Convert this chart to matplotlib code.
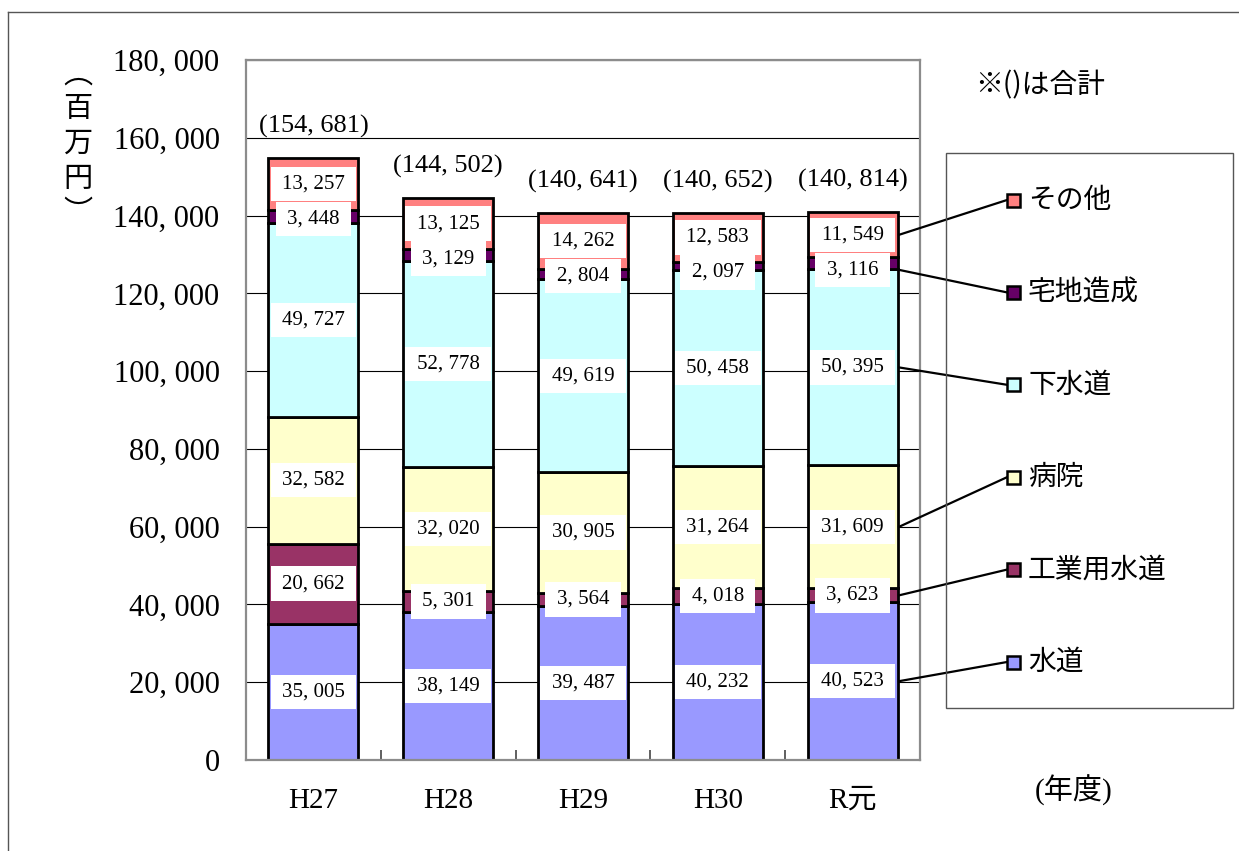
import numpy as np
import matplotlib
matplotlib.use("Agg")
import matplotlib.pyplot as plt
from matplotlib.patches import ConnectionPatch, Rectangle
from matplotlib.path import Path
from matplotlib.ticker import FixedLocator, FuncFormatter

# 年度別の事業費（百万円）
categories = ["H27", "H28", "H29", "H30", "R元"]
suido = [35005, 38149, 39487, 40232, 40523]
kogyo = [20662, 5301, 3564, 4018, 3623]
byoin = [32582, 32020, 30905, 31264, 31609]
gesui = [49727, 52778, 49619, 50458, 50395]
takuchi = [3448, 3129, 2804, 2097, 3116]
sonota = [13257, 13125, 14262, 12583, 11549]
totals = [154681, 144502, 140641, 140652, 140814]

series_names = ["水道", "工業用水道", "病院", "下水道", "宅地造成", "その他"]
series_vals = [suido, kogyo, byoin, gesui, takuchi, sonota]
colors = ["#9999FF", "#993366", "#FFFFCC", "#CCFFFF", "#660066", "#FF8080"]

NUM = ["Liberation Serif", "Noto Sans CJK JP"]
JP = ["Noto Sans CJK JP", "DejaVu Sans"]


def fmt(v):
    return f"{int(v):,}".replace(",", ", ")


def label_box(x0, y0, width, height, mutation_size):
    # 横に広め、縦に狭めの白枠
    px, py = 0.55 * mutation_size, 0.37 * mutation_size
    x1, y1 = x0 + width + px, y0 + height + py
    x0, y0 = x0 - px, y0 - py
    return Path([(x0, y0), (x1, y0), (x1, y1), (x0, y1), (x0, y0)],
                closed=True)


W, H = 1239, 851
fig = plt.figure(figsize=(W / 100, H / 100), dpi=100)
ax = fig.add_axes([246 / W, 1 - 760 / H, 674 / W, 700 / H])

x = np.arange(len(categories))
bw = 0.667
bottom = np.zeros(len(categories))
label_pos = []
for name, vals, c in zip(series_names, series_vals, colors):
    vals = np.array(vals, dtype=float)
    ax.bar(x, vals, bw, bottom=bottom, color=c, edgecolor="black",
           linewidth=2, zorder=2)
    label_pos.append(bottom + vals / 2)
    bottom = bottom + vals

# ラベルは上から順に重ならないよう下へずらす
label_h = 9000  # ラベル枠の高さ（データ単位）
ys_all = [None] * len(series_vals)
prev = np.full(len(categories), np.inf)
for k in range(len(series_vals) - 1, -1, -1):
    ys = np.minimum(label_pos[k], prev - label_h)
    ys_all[k] = ys
    prev = ys
for k, vals in enumerate(series_vals):
    for i, v in enumerate(vals):
        ax.text(x[i], ys_all[k][i], fmt(v), ha="center",
                va="center", fontsize=15, family=NUM, zorder=4,
                bbox=dict(boxstyle=label_box, fc="white", ec="none"))

# 合計
for i, t in enumerate(totals):
    ax.annotate(f"({fmt(t)})", (x[i], bottom[i]), xytext=(0, 23),
                textcoords="offset points", ha="center", va="center",
                fontsize=19, family=NUM)

ax.set_xlim(-0.5, len(categories) - 0.5)
ax.set_ylim(0, 180000)
ax.yaxis.set_major_locator(FixedLocator(np.arange(0, 180001, 20000)))
ax.yaxis.set_major_formatter(FuncFormatter(lambda v, p: fmt(v)))
ax.tick_params(axis="y", length=0, pad=19)
ax.grid(axis="y", color="black", linewidth=0.8, zorder=0)
ax.set_axisbelow(True)
for lab in ax.get_yticklabels():
    lab.set_family(NUM)
    lab.set_fontsize(22)

ax.set_xticks(x)
ax.set_xticklabels(categories)
ax.tick_params(axis="x", length=0, pad=20)
for lab in ax.get_xticklabels():
    lab.set_family(NUM)
    lab.set_fontsize(21)
ax.set_xticks(np.arange(-0.5, len(categories)), minor=True)
ax.tick_params(axis="x", which="minor", direction="in", length=7,
               color="#444444", width=1.2)
for s in ax.spines.values():
    s.set_color("#8c8c8c")
    s.set_linewidth(1.6)

# 図全体の座標系（ピクセル）で枠・凡例・注記を描く
ov = fig.add_axes([0, 0, 1, 1], zorder=5)
ov.set_xlim(0, W)
ov.set_ylim(H, 0)
ov.axis("off")
ov.plot([8, 8], [H + 5, 12], color="#555555", lw=1)
ov.plot([8, W + 5], [12, 12], color="#555555", lw=1)

ov.add_patch(Rectangle((946, 153), 287, 555, fill=False,
                       ec="#555555", lw=1))
leg_y = np.linspace(200, 662, 6)
for k, yy in zip(range(len(series_names) - 1, -1, -1), leg_y):
    ov.add_patch(Rectangle((1007, yy - 6.5), 13, 13, fc=colors[k],
                           ec="black", lw=1.8, zorder=6))
    ov.text(1028, yy, series_names[k], ha="left", va="center",
            fontsize=20, family=JP)
    con = ConnectionPatch(xyA=(x[-1] + bw / 2 + 0.01, ys_all[k][-1]),
                          coordsA=ax.transData,
                          xyB=(1007, yy), coordsB=ov.transData,
                          color="black", lw=1.6, zorder=5)
    fig.add_artist(con)

ov.text(975, 85, "※()は合計", ha="left", va="center", fontsize=20,
        family=JP)
ov.text(1074, 790, "(年度)", ha="center", va="center", fontsize=21,
        family=NUM)
ov.text(78, 144, "︵\n百\n万\n円\n︶", ha="center", va="center",
        fontsize=21, family=JP, linespacing=1.2)

fig.savefig("out.png", dpi=100)
